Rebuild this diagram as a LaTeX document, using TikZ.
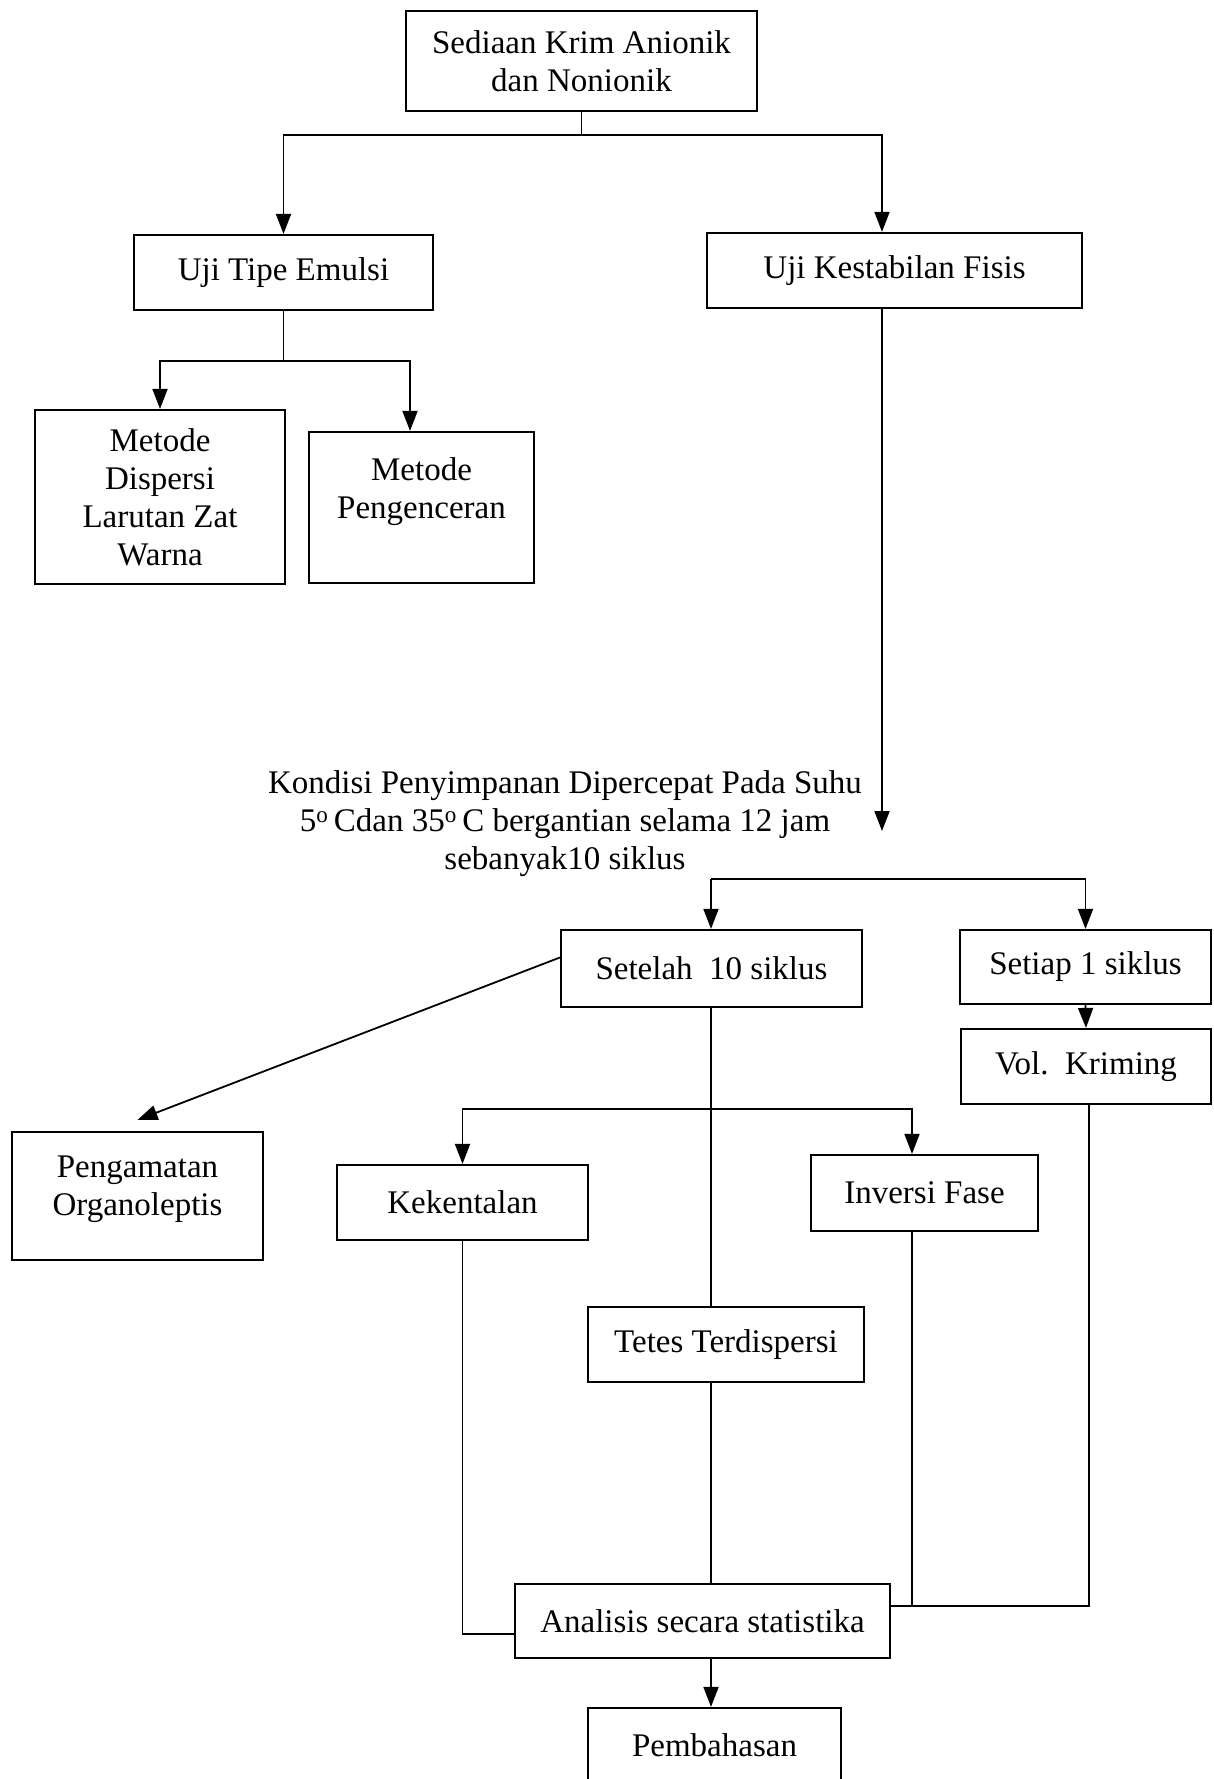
\documentclass[tikz,border=0pt]{standalone}
\usepackage{fontspec}
\setmainfont{Liberation Serif}
\usetikzlibrary{arrows.meta,calc}
\begin{document}
\begin{tikzpicture}[x=1pt,y=1pt,
  box/.style={draw,line width=2.2pt,rectangle,align=center,inner sep=0pt,
    font=\fontsize{33}{38}\selectfont},
  ln/.style={line width=1.8pt},
  arr/.style={line width=1.8pt,-{Triangle[length=20pt,width=15pt]}},
  lbl/.style={align=center,font=\fontsize{33}{38}\selectfont,inner sep=0pt}]
\useasboundingbox (0,0) rectangle (1213,-1779);
\fill[white] (0,0) rectangle (1213,-1779);
% nodes
\node[box,minimum width=351pt,minimum height=100pt] (top) at (581.5,-61) {Sediaan Krim Anionik\\dan Nonionik};
\node[box,minimum width=299pt,minimum height=75pt] (uji) at (283.5,-272.5) {Uji Tipe Emulsi};
\node[box,minimum width=375pt,minimum height=75pt] (kest) at (894.5,-270.5) {Uji Kestabilan Fisis};
\node[box,minimum width=250pt,minimum height=174pt] (disp) at (160,-497) {Metode\\Dispersi\\Larutan Zat\\Warna};
\node[box,minimum width=225pt,minimum height=151pt] (peng) at (421.5,-507.5) {Metode\\Pengenceran\\\mbox{}};
\node[lbl] (kond) at (565,-824) {Kondisi Penyimpanan Dipercepat Pada Suhu\\5\textsuperscript{o}\,Cdan 35\textsuperscript{o}\,C bergantian selama 12 jam\\sebanyak10 siklus};
\node[box,minimum width=301pt,minimum height=77pt] (setelah) at (711.5,-968.5) {Setelah\ \ 10 siklus};
\node[box,minimum width=251pt,minimum height=74pt] (setiap) at (1085.5,-967) {Setiap 1 siklus};
\node[box,minimum width=250pt,minimum height=75pt] (vol) at (1086,-1066.5) {Vol.\ \ Kriming};
\node[box,minimum width=251pt,minimum height=128pt] (org) at (137.5,-1196) {Pengamatan\\Organoleptis\\[-18pt]\mbox{}};
\node[box,minimum width=251pt,minimum height=75pt] (kek) at (462.5,-1202.5) {Kekentalan};
\node[box,minimum width=227pt,minimum height=76pt] (inv) at (924.5,-1193) {Inversi Fase};
\node[box,minimum width=276pt,minimum height=75pt] (tetes) at (726,-1344.5) {Tetes Terdispersi};
\node[box,minimum width=375pt,minimum height=74pt] (anal) at (702.5,-1621) {Analisis secara statistika};
\node[box,minimum width=253pt,minimum height=150pt] (pemb) at (714.5,-1783) {\raisebox{75pt}{Pembahasan}};
% coordinates
\coordinate (xk) at (882,0);
\coordinate (xp) at (410,0);
\coordinate (xs) at (711,0);
\coordinate (xi) at (912,0);
\coordinate (xv) at (1089,0);
\coordinate (kondtip) at (882,-831);
\coordinate (s3) at (711,-879);
\coordinate (s4) at (711,-1109);
% connectors
\draw[ln] (top.south) -- ++(0,-23) coordinate (s1);
\draw[arr] (s1) -| (uji.north);
\draw[arr] (s1) -| (kest.north -| xk);
\draw[ln] (uji.south) -- ++(0,-50) coordinate (s2);
\draw[arr] (s2) -| (disp.north);
\draw[arr] (s2) -| (peng.north -| xp);
\draw[arr] (kest.south -| xk) -- (kondtip);
\draw[arr] (s3) -- (setelah.north -| xs);
\draw[arr] (s3) -| (setiap.north);
\draw[arr] (setiap.south) -- (vol.north);
\draw[arr] ([yshift=11pt]setelah.west) -- ([yshift=11pt]org.north);
\draw[ln] (setelah.south -| xs) -- (tetes.north -| xs);
\draw[arr] (s4) -| (kek.north);
\draw[arr] (s4) -| (inv.north -| xi);
\draw[ln] (tetes.south -| xs) -- (anal.north -| xs);
\draw[ln] (kek.south) |- ([yshift=-13pt]anal.west);
\draw[ln] (inv.south -| xi) |- ([yshift=15pt]anal.east);
\draw[ln] (vol.south -| xv) |- ([yshift=15pt]anal.east);
\draw[arr] (anal.south -| xs) -- (pemb.north -| xs);
\end{tikzpicture}
\end{document}
